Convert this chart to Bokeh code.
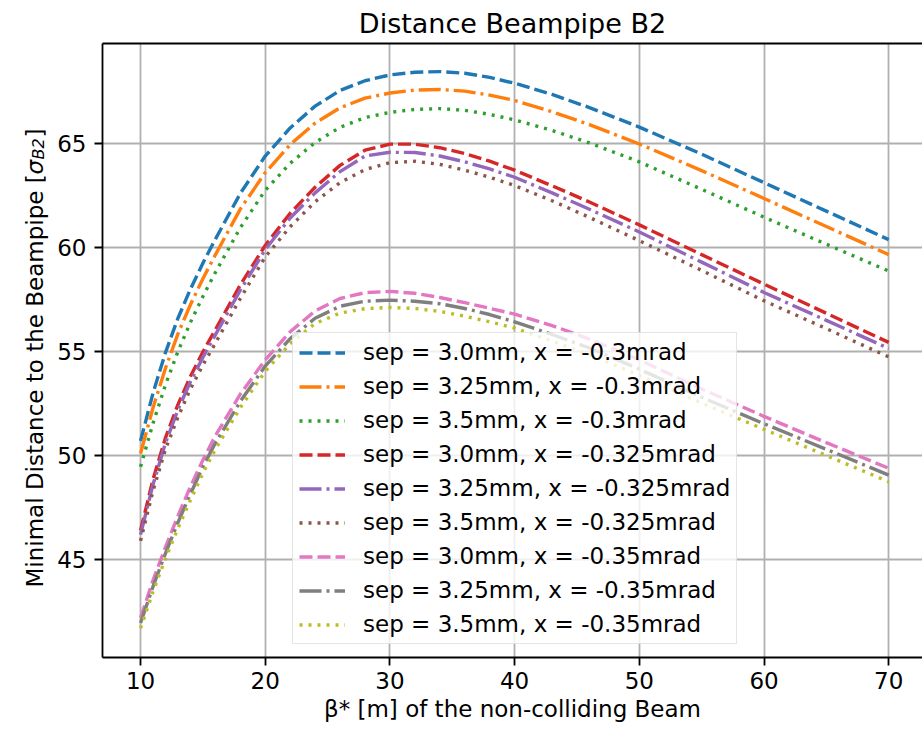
import math
from bokeh.plotting import figure
from bokeh.layouts import row
from bokeh.models import (Range1d, SingleIntervalTicker, FixedTicker, LinearAxis,
                          Legend, LegendItem, Label)
from bokeh.embed import file_html
from bokeh.resources import INLINE

# beta* of the non-colliding beam [m]
beta = [10, 11, 12, 13, 14, 15, 16, 18, 20, 22, 24, 26, 28, 30, 32, 34, 36, 38, 40, 43, 46, 50, 55, 60, 65, 70]

# minimal distance to the beampipe [sigma_B2]
d_30_0300 = [50.7, 53.0, 54.95, 56.6, 58.0, 59.25, 60.4, 62.6, 64.4, 65.75, 66.8, 67.55, 68.02, 68.3, 68.43, 68.46, 68.38, 68.18, 67.9, 67.36, 66.73, 65.79, 64.49, 63.12, 61.75, 60.38]
d_325_0300 = [50.1, 52.3, 54.2, 55.85, 57.25, 58.5, 59.65, 61.85, 63.6, 64.95, 65.98, 66.72, 67.18, 67.43, 67.57, 67.6, 67.52, 67.33, 67.07, 66.53, 65.91, 64.98, 63.7, 62.36, 61.01, 59.66]
d_35_0300 = [49.46, 51.55, 53.4, 55.0, 56.4, 57.65, 58.8, 60.95, 62.75, 64.05, 65.05, 65.78, 66.25, 66.5, 66.64, 66.68, 66.6, 66.4, 66.14, 65.63, 65.03, 64.12, 62.8, 61.46, 60.16, 58.87]
d_30_0325 = [46.4, 48.85, 50.85, 52.45, 53.8, 54.98, 56.05, 58.2, 60.1, 61.65, 62.9, 63.95, 64.68, 64.97, 64.97, 64.8, 64.52, 64.15, 63.72, 62.97, 62.19, 61.09, 59.66, 58.24, 56.84, 55.44]
d_325_0325 = [46.2, 48.6, 50.6, 52.2, 53.55, 54.72, 55.8, 57.95, 59.9, 61.42, 62.63, 63.65, 64.4, 64.58, 64.57, 64.4, 64.12, 63.78, 63.38, 62.63, 61.84, 60.75, 59.3, 57.84, 56.5, 55.15]
d_35_0325 = [45.9, 48.3, 50.3, 51.85, 53.2, 54.35, 55.4, 57.55, 59.55, 61.0, 62.2, 63.12, 63.75, 64.08, 64.15, 64.0, 63.72, 63.38, 62.98, 62.25, 61.45, 60.33, 58.9, 57.44, 56.1, 54.74]
d_30_0350 = [42.2, 44.0, 45.6, 47.1, 48.5, 49.78, 50.95, 52.95, 54.6, 55.95, 56.95, 57.55, 57.83, 57.89, 57.8, 57.6, 57.35, 57.08, 56.8, 56.25, 55.6, 54.6, 53.2, 51.88, 50.62, 49.39]
d_325_0350 = [41.95, 43.7, 45.3, 46.78, 48.15, 49.45, 50.6, 52.6, 54.3, 55.62, 56.6, 57.18, 57.42, 57.47, 57.42, 57.3, 57.07, 56.78, 56.43, 55.82, 55.17, 54.15, 52.8, 51.53, 50.3, 49.06]
d_35_0350 = [41.7, 43.45, 45.05, 46.5, 47.85, 49.15, 50.3, 52.3, 54.05, 55.38, 56.35, 56.85, 57.06, 57.12, 57.07, 56.93, 56.7, 56.43, 56.13, 55.5, 54.86, 53.85, 52.52, 51.26, 50.0, 48.74]

labels = [
    "sep = 3.0mm, x = -0.3mrad",
    "sep = 3.25mm, x = -0.3mrad",
    "sep = 3.5mm, x = -0.3mrad",
    "sep = 3.0mm, x = -0.325mrad",
    "sep = 3.25mm, x = -0.325mrad",
    "sep = 3.5mm, x = -0.325mrad",
    "sep = 3.0mm, x = -0.35mrad",
    "sep = 3.25mm, x = -0.35mrad",
    "sep = 3.5mm, x = -0.35mrad",
]
series = [d_30_0300, d_325_0300, d_35_0300, d_30_0325, d_325_0325, d_35_0325,
          d_30_0350, d_325_0350, d_35_0350]
colors = ["#1f77b4", "#ff7f0e", "#2ca02c", "#d62728", "#9467bd", "#8c564b",
          "#e377c2", "#7f7f7f", "#bcbd22"]
dashes = ["13 5", "22 5 3 5", "3 6"] * 3

FONT = "DejaVu Sans"

# ---- left strip holding the y-axis label (with subscript) ----
# its frame is aligned with the main frame (image y 43..657), so data y = 730 - image y
lab = figure(width=54, height=730, output_backend="svg", toolbar_location=None,
             x_range=Range1d(0, 54), y_range=Range1d(73, 687),
             x_axis_type=None, y_axis_type=None, min_border=0)
lab.outline_line_color = None
lab.grid.visible = False
lab.background_fill_color = "white"
lab.border_fill_color = "white"

lx = 34
ly = 143
lab.add_layout(Label(x=lx, y=ly, text="Minimal Distance to the Beampipe [",
                     angle=math.pi / 2, text_font=FONT, text_font_size="23px",
                     text_color="black", text_baseline="alphabetic", text_align="left"))
lab.add_layout(Label(x=lx, y=ly + 413, text="σ",
                     angle=math.pi / 2, text_font=FONT, text_font_size="23px",
                     text_font_style="italic",
                     text_color="black", text_baseline="alphabetic", text_align="left"))
lab.add_layout(Label(x=lx + 4, y=ly + 428, text="B2",
                     angle=math.pi / 2, text_font=FONT, text_font_size="16px",
                     text_font_style="italic",
                     text_color="black", text_baseline="alphabetic", text_align="left"))
lab.add_layout(Label(x=lx, y=ly + 450, text="]",
                     angle=math.pi / 2, text_font=FONT, text_font_size="23px",
                     text_color="black", text_baseline="alphabetic", text_align="left"))

# ---- main plot ----
p = figure(width=868, height=730, output_backend="svg", toolbar_location=None,
           x_range=Range1d(6.95, 72.71), y_range=Range1d(40.29, 69.81),
           title="Distance Beampipe B2",
           min_border_left=48, min_border_right=0, min_border_top=43, min_border_bottom=73)
p.outline_line_color = None
p.background_fill_color = "white"
p.border_fill_color = "white"

p.title.text_font = FONT
p.title.text_font_size = "27px"
p.title.text_font_style = "normal"
p.title.text_color = "black"
p.title.align = "center"

xt = SingleIntervalTicker(interval=10, num_minor_ticks=0)
yt = SingleIntervalTicker(interval=5, num_minor_ticks=0)
p.xaxis.ticker = xt
p.yaxis.ticker = yt
p.xgrid.ticker = xt
p.ygrid.ticker = yt

for ax in (p.xaxis[0], p.yaxis[0]):
    ax.axis_line_color = "black"
    ax.axis_line_width = 1.8
    ax.major_tick_line_color = "black"
    ax.major_tick_line_width = 1.8
    ax.major_tick_out = 8
    ax.major_tick_in = 0
    ax.minor_tick_line_color = None
    ax.major_label_text_font = FONT
    ax.major_label_text_font_size = "23px"
    ax.major_label_text_color = "black"
    ax.axis_label_text_font = FONT
    ax.axis_label_text_font_size = "23px"
    ax.axis_label_text_font_style = "normal"
    ax.axis_label_text_color = "black"

p.xaxis.major_label_standoff = 6
p.xaxis.axis_label = "β* [m] of the non-colliding Beam"
p.xaxis.axis_label_standoff = 4
p.yaxis.major_label_standoff = 8

top_axis = LinearAxis(ticker=FixedTicker(ticks=[]), axis_line_color="black", axis_line_width=1.8,
                      major_tick_out=0, major_tick_in=0, minor_tick_out=0, minor_tick_in=0,
                      major_label_standoff=0, axis_label_standoff=0)
p.add_layout(top_axis, "above")

for g in (p.xgrid[0], p.ygrid[0]):
    g.grid_line_color = "#b0b0b0"
    g.grid_line_width = 1.8

items = []
for lab_text, ys, c, d in zip(labels, series, colors, dashes):
    r = p.line(beta, ys, line_color=c, line_width=3.4, line_dash=d)
    items.append(LegendItem(label=lab_text, renderers=[r]))

legend = Legend(items=items, location=(190, 13), margin=0, padding=6,
                spacing=8, glyph_width=46, glyph_height=23, label_height=23,
                label_standoff=18, label_text_font=FONT, label_text_font_size="23px",
                label_text_color="black",
                background_fill_color="white", background_fill_alpha=0.8,
                border_line_color="#cccccc", border_line_width=1.5)
p.add_layout(legend)

layout = row(lab, p, spacing=0)
open("out.html", "w").write(file_html(layout, INLINE))
